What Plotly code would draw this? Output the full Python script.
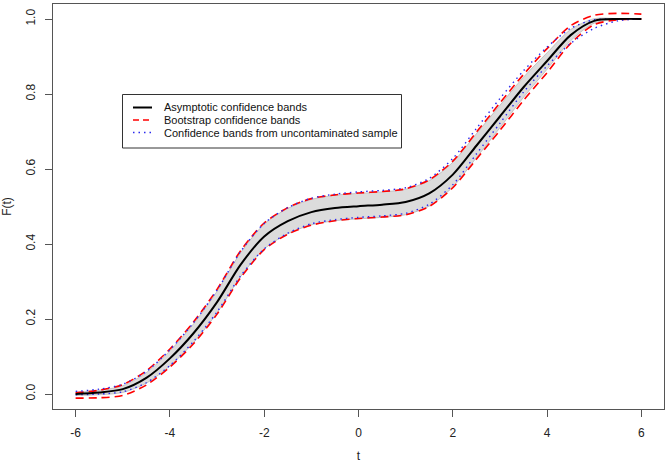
import plotly.graph_objects as go

# ---- data ----
t_vals = [-6, -5.5, -5, -4.5, -4, -3.5, -3, -2.5, -2, -1.5, -1, -0.5, 0,
          0.5, 1, 1.5, 2, 2.5, 3, 3.5, 4, 4.5, 5, 5.5, 6]

estimate = [0.000, 0.004, 0.013, 0.043, 0.095, 0.162, 0.245, 0.345, 0.420, 0.461,
            0.485, 0.496, 0.501, 0.505, 0.512, 0.535, 0.585, 0.662, 0.740, 0.818,
            0.888, 0.957, 0.995, 1.000, 1.000]

asym_lower = [-0.004, -0.002, 0.004, 0.029, 0.075, 0.137, 0.216, 0.313, 0.387, 0.427,
              0.451, 0.462, 0.467, 0.471, 0.478, 0.501, 0.552, 0.630, 0.710, 0.791,
              0.866, 0.942, 0.989, 0.999, 1.000]
asym_upper = [0.004, 0.010, 0.022, 0.057, 0.115, 0.187, 0.274, 0.377, 0.453, 0.495,
              0.519, 0.530, 0.535, 0.539, 0.546, 0.569, 0.618, 0.694, 0.770, 0.845,
              0.910, 0.972, 1.001, 1.001, 1.000]

boot_lower = [-0.011, -0.010, -0.004, 0.024, 0.072, 0.134, 0.213, 0.310, 0.385, 0.426,
              0.450, 0.462, 0.468, 0.472, 0.478, 0.500, 0.550, 0.626, 0.703, 0.783,
              0.857, 0.935, 0.985, 0.998, 1.000]
boot_upper = [0.003, 0.010, 0.025, 0.062, 0.120, 0.192, 0.279, 0.382, 0.456, 0.497,
              0.521, 0.531, 0.536, 0.540, 0.547, 0.571, 0.621, 0.698, 0.776, 0.852,
              0.921, 0.982, 1.010, 1.015, 1.013]

unc_lower = [-0.002, 0.000, 0.006, 0.030, 0.076, 0.140, 0.219, 0.315, 0.387, 0.429,
             0.454, 0.465, 0.471, 0.475, 0.482, 0.506, 0.558, 0.640, 0.722, 0.805,
             0.875, 0.935, 0.975, 0.995, 1.000]
unc_upper = [0.007, 0.013, 0.026, 0.060, 0.118, 0.190, 0.277, 0.380, 0.455, 0.497,
             0.522, 0.533, 0.539, 0.543, 0.550, 0.575, 0.628, 0.708, 0.788, 0.862,
             0.925, 0.975, 0.998, 1.000, 1.000]

x_ticks = [-6, -4, -2, 0, 2, 4, 6]
x_tick_text = ["-6", "-4", "-2", "0", "2", "4", "6"]
y_ticks = [0.0, 0.2, 0.4, 0.6, 0.8, 1.0]
y_tick_text = ["0.0", "0.2", "0.4", "0.6", "0.8", "1.0"]

legend_labels = ["Asymptotic confidence bands",
                 "Bootstrap confidence bands",
                 "Confidence bands from uncontaminated sample"]

FONT = "Liberation Sans, Arial, Helvetica, sans-serif"
TEXT_COLOR = "#222222"
sp = dict(shape="spline", smoothing=0.8)

RED = "#ff0000"
BLUE = "#2a2aee"
RED_DASH = "8px,5px"
BLUE_DOT = "1.5px,4px"

# plot-area geometry in pixels (for the hand-drawn legend box)
W, H = 668, 463
L, R, T, B = 53, 4, 4, 54
PW, PH = W - L - R, H - T - B


def px2x(px):
    return (px - L) / PW


def py2y(py):
    return (H - B - py) / PH


fig = go.Figure()

# grey asymptotic band
fig.add_trace(go.Scatter(x=t_vals, y=asym_lower, mode="lines",
                         line=dict(color="#9a9a9a", width=0.5, **sp),
                         name="Asymptotic lower", showlegend=False, hoverinfo="skip"))
fig.add_trace(go.Scatter(x=t_vals, y=asym_upper, mode="lines", fill="tonexty",
                         fillcolor="#dcdcdc",
                         line=dict(color="#9a9a9a", width=0.5, **sp),
                         name="Asymptotic upper", showlegend=False, hoverinfo="skip"))

# bootstrap bands (red dashed)
fig.add_trace(go.Scatter(x=t_vals, y=boot_lower, mode="lines",
                         line=dict(color=RED, width=1.6, dash=RED_DASH, **sp),
                         name=legend_labels[1], showlegend=False))
fig.add_trace(go.Scatter(x=t_vals, y=boot_upper, mode="lines",
                         line=dict(color=RED, width=1.6, dash=RED_DASH, **sp),
                         name=legend_labels[1], showlegend=False))

# uncontaminated bands (blue dotted)
fig.add_trace(go.Scatter(x=t_vals, y=unc_lower, mode="lines",
                         line=dict(color=BLUE, width=1.4, dash=BLUE_DOT, **sp),
                         name=legend_labels[2], showlegend=False))
fig.add_trace(go.Scatter(x=t_vals, y=unc_upper, mode="lines",
                         line=dict(color=BLUE, width=1.4, dash=BLUE_DOT, **sp),
                         name=legend_labels[2], showlegend=False))

# estimate (black solid)
fig.add_trace(go.Scatter(x=t_vals, y=estimate, mode="lines",
                         line=dict(color="#000000", width=2, **sp),
                         name=legend_labels[0], showlegend=False))

# ---- R-style legend box ----
box_l, box_r, box_t, box_b = 122.5, 401.5, 94.5, 148
rows_py = [107.5, 120, 132.5]
line_x0, line_x1, text_x = 133, 152, 162
styles = [dict(color="#000000", width=2, dash="solid"),
          dict(color=RED, width=1.6, dash="6px,4px"),
          dict(color=BLUE, width=1.4, dash=BLUE_DOT)]

shapes = [dict(type="rect", xref="paper", yref="paper",
               x0=px2x(box_l), x1=px2x(box_r), y0=py2y(box_b), y1=py2y(box_t),
               line=dict(color="#333333", width=1), fillcolor="white", layer="above")]
annotations = []
for py, st, lab in zip(rows_py, styles, legend_labels):
    shapes.append(dict(type="line", xref="paper", yref="paper",
                       x0=px2x(line_x0), x1=px2x(line_x1), y0=py2y(py), y1=py2y(py),
                       line=st, layer="above"))
    annotations.append(dict(xref="paper", yref="paper", x=px2x(text_x), y=py2y(py),
                            text=lab, showarrow=False, xanchor="left", yanchor="middle",
                            font=dict(family=FONT, size=11, color="#111111")))

axis_common = dict(showgrid=False, zeroline=False, showline=True, mirror=True,
                   linecolor="#555555", linewidth=1, ticks="outside", ticklen=7,
                   tickcolor="#555555", tickwidth=1, automargin=False,
                   tickfont=dict(family=FONT, size=12, color=TEXT_COLOR))

fig.update_layout(
    width=W, height=H,
    margin=dict(l=L, r=R, t=T, b=B),
    paper_bgcolor="white", plot_bgcolor="white",
    font=dict(family=FONT, size=12, color=TEXT_COLOR),
    xaxis=dict(range=[-6.48, 6.48], tickvals=x_ticks, ticktext=x_tick_text,
               ticklabelstandoff=6,
               title=dict(text="t", standoff=12,
                          font=dict(family=FONT, size=12, color=TEXT_COLOR)),
               **axis_common),
    yaxis=dict(range=[-0.04, 1.04], tickvals=y_ticks, ticktext=y_tick_text,
               tickangle=-90, ticklabelstandoff=5,
               title=dict(text="F(t)", standoff=10,
                          font=dict(family=FONT, size=12, color=TEXT_COLOR)),
               **axis_common),
    shapes=shapes,
    annotations=annotations,
    showlegend=False,
)

# remove the browser's default 8px body margin so the figure sits at (0, 0)
fig.write_html("out.html",
               config={"displayModeBar": False},
               post_script="document.body.style.margin='0px';"
                           "document.body.style.padding='0px';"
                           "document.body.style.overflow='hidden';")
